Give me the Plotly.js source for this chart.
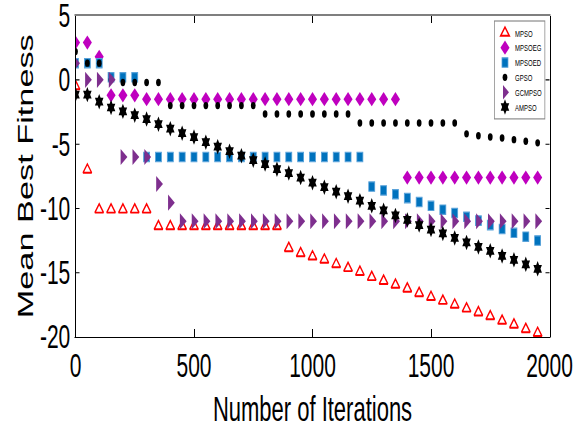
<!DOCTYPE html>
<html><head><meta charset="utf-8">
<script src="https://cdn.plot.ly/plotly-3.0.1.min.js"></script>
<style>
html,body{margin:0;padding:0;overflow:hidden;background:#fff;width:584px;height:428px}
#wrap{width:584px;height:428px;overflow:hidden;position:relative}
#chart{width:1168px;height:549px;transform:scale(0.5,0.78);transform-origin:0 0;position:absolute;left:0;top:0}
</style></head>
<body><div id="wrap"><div id="chart"></div></div>
<script>
var iterations = [0,50,100,150,200,250,300,350,400,450,500,550,600,650,700,750,800,850,900,950,
                  1000,1050,1100,1150,1200,1250,1300,1350,1400,1450,1500,1550,1600,1650,1700,1750,1800,1850,1900,1950];

var mpso    = [-0.5,-7.0,-10.1,-10.1,-10.1,-10.1,-10.1,-11.4,-11.4,-11.4,-11.4,-11.4,-11.4,-11.4,-11.4,-11.4,-11.4,-11.4,-13.1,-13.5,
               -13.75,-14.0,-14.35,-14.65,-14.95,-15.35,-15.65,-15.95,-16.25,-16.6,-16.9,-17.2,-17.5,-17.8,-18.1,-18.4,-18.75,-19.05,-19.4,-19.7];
var mpsoeg  = [2.9,2.9,1.8,-1.2,-1.2,-1.2,-1.5,-1.5,-1.5,-1.5,-1.5,-1.5,-1.5,-1.5,-1.5,-1.5,-1.5,-1.5,-1.5,-1.5,
               -1.5,-1.5,-1.5,-1.5,-1.5,-1.5,-1.5,-1.5,-7.6,-7.6,-7.6,-7.6,-7.6,-7.6,-7.6,-7.6,-7.6,-7.6,-7.6,-7.6];
var mpsoed  = [1.3,1.3,1.3,0.2,0.2,0.2,-6.0,-6.0,-6.0,-6.0,-6.0,-6.0,-6.0,-6.0,-6.0,-6.0,-6.0,-6.0,-6.0,-6.0,
               -6.0,-6.0,-6.0,-6.0,-6.0,-8.3,-8.6,-8.9,-9.2,-9.5,-9.8,-10.1,-10.35,-10.65,-10.95,-11.3,-11.6,-11.9,-12.2,-12.5];
var gpso    = [2.2,1.3,1.3,0.0,-0.2,-0.2,-0.2,-0.2,-2.0,-2.0,-2.0,-2.0,-2.0,-2.0,-2.0,-2.0,-2.65,-2.65,-2.65,-2.65,
               -2.65,-2.65,-2.65,-2.65,-3.35,-3.35,-3.35,-3.35,-3.35,-3.35,-3.35,-3.35,-3.35,-4.2,-4.35,-4.45,-4.52,-4.65,-4.78,-4.9];
var gcmpso  = [1.3,0.0,0.0,0.0,-6.0,-6.0,-6.0,-8.1,-9.55,-11.0,-11.0,-11.0,-11.0,-11.0,-11.0,-11.0,-11.0,-11.0,-11.0,-11.0,
               -11.0,-11.0,-11.0,-11.0,-11.0,-11.0,-11.0,-11.0,-11.0,-11.0,-11.0,-11.0,-11.0,-11.0,-11.0,-11.0,-11.0,-11.0,-11.0,-11.0];
var ampso   = [-1.15,-1.15,-1.7,-2.15,-2.45,-2.75,-3.05,-3.45,-3.8,-4.15,-4.45,-4.85,-5.2,-5.55,-5.9,-6.25,-6.55,-6.95,-7.25,-7.6,
               -8.0,-8.35,-8.7,-9.05,-9.4,-9.8,-10.15,-10.55,-10.9,-11.3,-11.65,-11.95,-12.3,-12.65,-13.0,-13.3,-13.7,-14.0,-14.35,-14.7];

var seriesNames = ['MPSO','MPSOEG','MPSOED','GPSO','GCMPSO','AMPSO'];
var xTickVals = [0,500,1000,1500,2000];
var xTickText = ['0','500','1000','1500','2000'];
var yTickVals = [-20,-15,-10,-5,0,5];
var yTickText = ['-20','-15','-10','-5','0','5'];

var traces = [
  {x:iterations, y:mpso, name:seriesNames[0], type:'scatter', mode:'markers',
   marker:{symbol:'triangle-up-open', size:15, color:'#FF0000', line:{color:'#FF0000', width:2.5}}},
  {x:iterations, y:mpsoeg, name:seriesNames[1], type:'scatter', mode:'markers',
   marker:{symbol:'diamond', size:14, color:'#BF00BF', line:{width:0}}},
  {x:iterations, y:mpsoed, name:seriesNames[2], type:'scatter', mode:'markers',
   marker:{symbol:'square', size:12, color:'#0072BD', line:{color:'#5AA3DA', width:1.5}}},
  {x:iterations, y:gpso, name:seriesNames[3], type:'scatter', mode:'markers',
   marker:{symbol:'circle', size:9.5, color:'#000000', line:{width:0}}},
  {x:iterations, y:gcmpso, name:seriesNames[4], type:'scatter', mode:'markers',
   marker:{symbol:'triangle-right', size:18, color:'#7E2F8E', line:{width:0}}},
  {x:iterations, y:ampso, name:seriesNames[5], type:'scatter', mode:'markers',
   marker:{symbol:'hexagram', size:15, color:'#000000', line:{width:0}}}
];

var layout = {
  width:1168, height:549,
  margin:{l:151, r:69, t:19.5, b:117, pad:0},
  paper_bgcolor:'#ffffff', plot_bgcolor:'#ffffff',
  font:{family:'Liberation Sans, Arial, sans-serif', color:'#000000'},
  showlegend:true,
  xaxis:{range:[0,2000], tickvals:xTickVals, ticktext:xTickText, ticks:'inside', ticklen:10, tickwidth:2,
         tickcolor:'#000', showline:true, linecolor:'#000', linewidth:1.3, mirror:'ticks',
         showgrid:false, zeroline:false, tickfont:{size:42, color:'#000'}, ticklabeloverflow:'allow',
         title:{text:'Number of Iterations', font:{size:44, color:'#000'}}},
  yaxis:{range:[-20,5], tickvals:yTickVals, ticktext:yTickText, ticks:'inside', ticklen:8, tickwidth:1.3,
         tickcolor:'#000', showline:true, linecolor:'#000', linewidth:2, mirror:'ticks',
         showgrid:false, zeroline:false, tickfont:{size:42, color:'#000'}, ticklabeloverflow:'allow',
         title:{text:'Mean Best Fitness', font:{size:44, color:'#000'}, standoff:0}},
  legend:{x:0.991, xanchor:'right', y:0.985, yanchor:'top', bgcolor:'#ffffff', bordercolor:'#888888',
          borderwidth:1.5, font:{size:12, color:'#000'}, tracegroupgap:0}
};

Plotly.newPlot('chart', traces, layout, {displayModeBar:false, staticPlot:true});
</script></body></html>
